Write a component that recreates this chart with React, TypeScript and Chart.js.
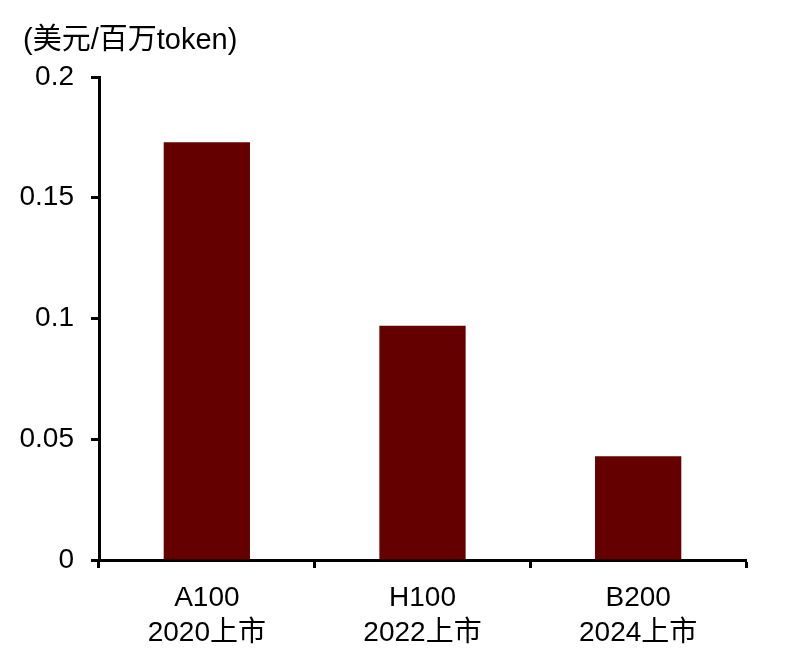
import { useEffect, useRef } from "react";
import { Chart, registerables } from "chart.js";

Chart.register(...registerables);

const gpuNames = ["A100", "H100", "B200"];
const launchLabels = ["2020上市", "2022上市", "2024上市"];
const costPerMillionTokens = [0.173, 0.097, 0.043];
const yTicks = [0, 0.05, 0.1, 0.15, 0.2];
const unitLabel = "(美元/百万token)";

const FONT = "'Liberation Sans', Arial, 'Noto Sans CJK SC', sans-serif";

const unitTitle = {
  id: "unitTitle",
  afterDraw(chart: Chart) {
    const ctx = chart.ctx;
    ctx.save();
    ctx.fillStyle = "#000";
    ctx.font = `29px ${FONT}`;
    ctx.textBaseline = "middle";
    ctx.textAlign = "left";
    ctx.fillText(unitLabel, 23, 41);
    ctx.restore();
  },
};

export default function App() {
  const chartRef = useRef<HTMLCanvasElement>(null);
  const chartInstance = useRef<Chart | null>(null);

  useEffect(() => {
    if (!chartRef.current) return;
    if (chartInstance.current) chartInstance.current.destroy();
    const ctx = chartRef.current.getContext("2d");
    if (!ctx) return;

    chartInstance.current = new Chart(ctx, {
      type: "bar",
      data: {
        labels: gpuNames.map((n, i) => [n, launchLabels[i]]),
        datasets: [
          {
            data: costPerMillionTokens,
            backgroundColor: "#640000",
            borderWidth: 0,
            categoryPercentage: 0.8,
            barPercentage: 0.5,
          },
        ],
      },
      options: {
        responsive: true,
        maintainAspectRatio: false,
        animation: false,
        layout: { padding: { left: 0, top: 77, right: 47, bottom: 0 } },
        plugins: {
          legend: { display: false },
          tooltip: { enabled: false },
        },
        scales: {
          x: {
            afterFit: (scale) => {
              scale.height = 101;
            },
            border: { display: true, color: "#000", width: 3 },
            grid: {
              offset: true,
              drawOnChartArea: false,
              drawTicks: true,
              tickLength: 8,
              tickWidth: 3,
              color: "#000",
            },
            ticks: {
              color: "#000",
              padding: 13,
              maxRotation: 0,
              font: { family: FONT, size: 28, lineHeight: 1.25 },
            },
          },
          y: {
            min: 0,
            max: 0.2,
            afterFit: (scale) => {
              scale.width = 99;
            },
            afterBuildTicks: (scale) => {
              scale.ticks = yTicks.map((v) => ({ value: v }));
            },
            border: { display: true, color: "#000", width: 3 },
            grid: {
              drawOnChartArea: false,
              drawTicks: true,
              tickLength: 8,
              tickWidth: 3,
              color: "#000",
            },
            ticks: {
              color: "#000",
              padding: 17,
              font: { family: FONT, size: 28 },
              callback: (value) => String(Number(Number(value).toFixed(2))),
            },
          },
        },
      },
      plugins: [unitTitle],
    });

    return () => {
      if (chartInstance.current) {
        chartInstance.current.destroy();
        chartInstance.current = null;
      }
    };
  }, []);

  return (
    <div style={{ position: "absolute", left: 0, top: 0, width: 793, height: 661, background: "#fff" }}>
      <canvas ref={chartRef} />
    </div>
  );
}
